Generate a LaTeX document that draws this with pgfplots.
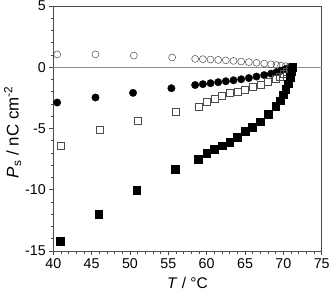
\documentclass[border=0pt]{standalone}
\usepackage{pgfplots}
\pgfplotsset{compat=1.18}
\usepackage{fontspec}
\setmainfont{Liberation Sans}
\definecolor{axgray}{gray}{0.3}
\definecolor{zgray}{gray}{0.55}
\definecolor{mgray}{gray}{0.3}
\begin{document}
\begin{tikzpicture}
\useasboundingbox (-53.3bp,-47bp) rectangle (277.7bp,251bp);
\begin{axis}[
  scale only axis,
  width=268.4bp, height=245bp,
  xmin=40, xmax=75, ymin=-15, ymax=5,
  xtick={40,45,...,75}, ytick={-15,-10,-5,0,5},
  minor x tick num=4, minor y tick num=4,
  xtick pos=bottom, ytick pos=left,
  tick align=outside,
  major tick length=4bp, minor tick length=2.5bp,
  axis line style={axgray, line width=0.9pt},
  every tick/.style={axgray, line width=0.7pt},
  /pgf/number format/assume math mode=true,
  tick label style={font=\fontsize{14.3}{16}\selectfont},
  xlabel={\textit{T} / °C},
  ylabel={\textit{P}\textsubscript{s} / nC cm\textsuperscript{-2}},
  xlabel style={font=\fontsize{15.5}{18}\selectfont, yshift=-2bp},
  ylabel style={font=\fontsize{17}{20}\selectfont, at={(ticklabel cs:0.485)}, yshift=-3bp},
  clip=false,
]
\addplot[zgray, line width=0.6pt] coordinates {(40,0) (75,0)};
% open circles
\addplot[only marks, mark=o, mark size=3.5bp, mark options={mgray, line width=0.5pt}] coordinates {
(40.5,1.05) (45.5,1.05) (50.5,0.95) (55.5,0.8) (58.5,0.68) (59.5,0.66) (60.5,0.63) (61.5,0.6) (62.5,0.56) (63.5,0.52) (64.5,0.47) (65.5,0.42) (66.5,0.36) (67.5,0.3) (68.4,0.24) (69.1,0.18) (69.7,0.13) (70.3,0.08) (70.8,0.04) (71.2,0.0)};
% filled circles
\addplot[only marks, mark=*, mark size=3.7bp, mark options={black, fill=black}] coordinates {
(40.5,-2.88) (45.5,-2.47) (50.4,-2.09) (55.4,-1.71) (58.5,-1.45) (59.5,-1.38) (60.5,-1.3) (61.5,-1.22) (62.5,-1.14) (63.5,-1.06) (64.5,-0.98) (65.5,-0.88) (66.5,-0.76) (67.5,-0.64) (68.4,-0.52) (69.1,-0.4) (69.7,-0.28) (70.3,-0.15) (70.8,-0.05) (71.1,0)};
% open squares
\addplot[only marks, mark=square, mark size=3.5bp, mark options={mgray, line width=0.6pt}] coordinates {
(41.0,-6.39) (46.0,-5.14) (51.0,-4.35) (56.0,-3.61) (59.0,-3.22) (60.0,-2.8) (61.0,-2.58) (62.0,-2.33) (63.0,-2.12) (64.0,-1.97) (65.0,-1.82) (66.0,-1.63) (67.0,-1.4) (68.0,-1.2) (69.0,-0.92) (69.6,-0.75) (70.1,-0.55) (70.5,-0.35) (70.9,-0.15) (71.2,0)};
% filled squares
\addplot[only marks, mark=square*, mark size=3.8bp, mark options={black, fill=black}] coordinates {
(40.9,-14.18) (45.9,-11.98) (50.9,-10.05) (55.9,-8.34) (58.9,-7.5) (60.0,-7.0) (61.0,-6.68) (62.0,-6.41) (63.0,-6.11) (64.0,-5.73) (65.0,-5.24) (65.9,-4.89) (67.0,-4.43) (68.0,-3.83) (69.0,-3.2) (69.6,-2.74) (70.0,-2.25) (70.3,-1.8) (70.6,-1.35) (70.9,-0.8) (71.1,-0.35) (71.2,0)};
\end{axis}
\end{tikzpicture}
\end{document}
